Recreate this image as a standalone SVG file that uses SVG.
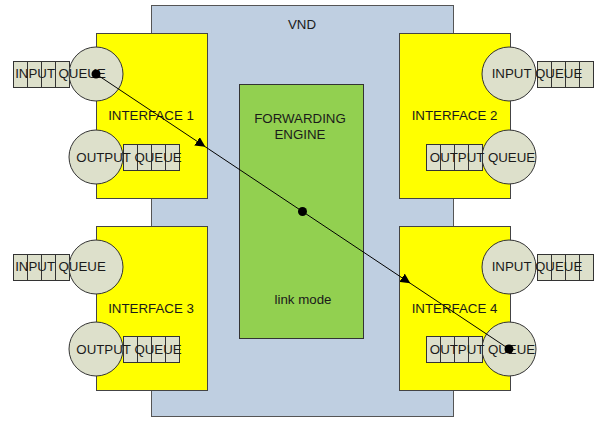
<svg xmlns="http://www.w3.org/2000/svg" width="598" height="421" viewBox="0 0 598 421">
<defs>
<style>
.vnd{fill:#bfcfe1;stroke:#555;stroke-width:1}
.ifc{fill:#ffff00;stroke:#444;stroke-width:1}
.fwd{fill:#92d050;stroke:#333;stroke-width:1}
.q{fill:#dde0cb;stroke:#333;stroke-width:1}
.t{font-family:"Liberation Sans",Arial,sans-serif;font-size:13.3px;fill:#1a1a1a;text-anchor:middle}
.ln{stroke:#000;stroke-width:1;fill:none}
</style>
<marker id="arr" viewBox="0 0 10 10" refX="6" refY="5" markerWidth="10" markerHeight="10" markerUnits="userSpaceOnUse" orient="auto">
<path d="M0,0 L10,5 L0,10 z" fill="#000"/>
</marker>
<g id="queue">
<rect class="q" x="0" y="0" width="14" height="26"/>
<rect class="q" x="14" y="0" width="14" height="26"/>
<rect class="q" x="28" y="0" width="14" height="26"/>
<rect class="q" x="42" y="0" width="14" height="26"/>
</g>
</defs>
<g id="vnd">
<rect class="vnd" x="151.5" y="5.5" width="302" height="411"/>
<text class="t" x="302" y="29">VND</text>
</g>
<g id="forwarding-engine">
<rect class="fwd" x="239.5" y="84.5" width="124" height="254"/>
<text class="t" x="300" y="123">FORWARDING</text>
<text class="t" x="300" y="139">ENGINE</text>
<text class="t" x="303" y="304">link mode</text>
</g>
<g id="interface1">
<rect class="ifc" x="96.5" y="33.5" width="111" height="165"/>
<use href="#queue" x="13.5" y="61.5"/>
<circle class="q" cx="96" cy="74" r="27"/>
<circle class="q" cx="96" cy="157" r="27"/>
<use href="#queue" x="123.5" y="144.5"/>
<text class="t" x="60.5" y="78">INPUT QUEUE</text>
<text class="t" x="129" y="162">OUTPUT QUEUE</text>
<text class="t" x="151" y="120">INTERFACE 1</text>
</g>
<g id="interface2">
<rect class="ifc" x="399.5" y="33.5" width="111" height="165"/>
<use href="#queue" x="537.5" y="61.5"/>
<circle class="q" cx="509" cy="74" r="27"/>
<circle class="q" cx="509" cy="157" r="27"/>
<use href="#queue" x="426.5" y="144.5"/>
<text class="t" x="537" y="78">INPUT QUEUE</text>
<text class="t" x="482.5" y="162">OUTPUT QUEUE</text>
<text class="t" x="454.5" y="120">INTERFACE 2</text>
</g>
<g id="interface3">
<rect class="ifc" x="96.5" y="226.5" width="111" height="164"/>
<use href="#queue" x="13.5" y="254.5"/>
<circle class="q" cx="96" cy="267" r="27"/>
<circle class="q" cx="96" cy="349" r="27"/>
<use href="#queue" x="123.5" y="336.5"/>
<text class="t" x="60.5" y="271">INPUT QUEUE</text>
<text class="t" x="129" y="354">OUTPUT QUEUE</text>
<text class="t" x="151" y="313">INTERFACE 3</text>
</g>
<g id="interface4">
<rect class="ifc" x="399.5" y="226.5" width="111" height="164"/>
<use href="#queue" x="537.5" y="254.5"/>
<circle class="q" cx="509" cy="267" r="27"/>
<circle class="q" cx="509" cy="349" r="27"/>
<use href="#queue" x="426.5" y="336.5"/>
<text class="t" x="537" y="271">INPUT QUEUE</text>
<text class="t" x="482.5" y="354">OUTPUT QUEUE</text>
<text class="t" x="454.5" y="313">INTERFACE 4</text>
</g>
<g id="connectors">
<line class="ln" x1="96" y1="74" x2="202" y2="144.6" marker-end="url(#arr)"/>
<line class="ln" x1="202" y1="144.6" x2="407" y2="281.1" marker-end="url(#arr)"/>
<line class="ln" x1="407" y1="281.1" x2="509" y2="349"/>
<circle cx="96" cy="74" r="4.5" fill="#000"/>
<circle cx="302.5" cy="211.5" r="4.5" fill="#000"/>
<circle cx="509" cy="349" r="4.5" fill="#000"/>
</g>
</svg>
